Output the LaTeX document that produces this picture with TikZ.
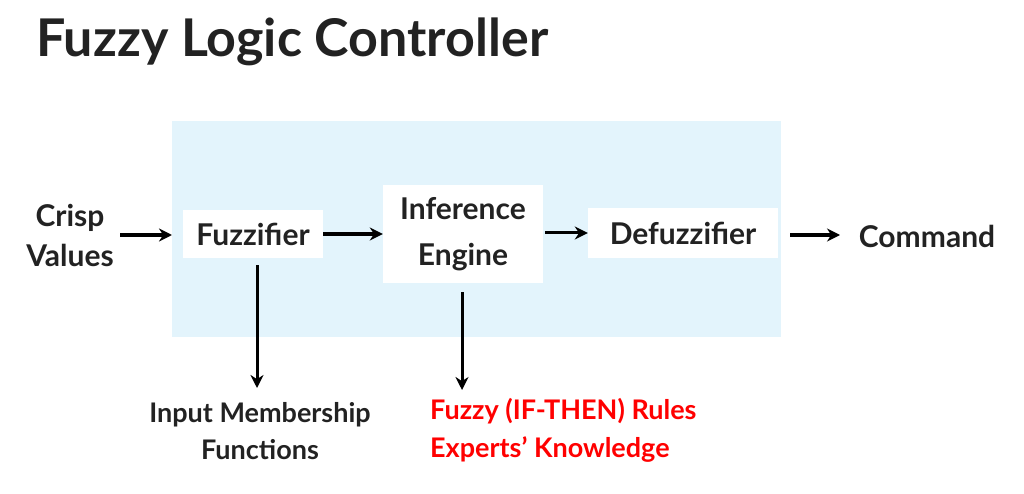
\documentclass[tikz,border=0pt]{standalone}
\usepackage{fontspec}
\setmainfont{Lato}
\usetikzlibrary{arrows.meta}
\definecolor{bgblue}{HTML}{E3F4FC}
\definecolor{txt}{HTML}{222222}
\begin{document}
\begin{tikzpicture}[x=1pt,y=-1pt,
  lbl/.style={font=\fontsize{30}{46}\selectfont\bfseries,text=txt,align=center,inner sep=0pt},
  box/.style={fill=white,lbl},
  arr/.style={-{Stealth[length=13pt,width=13pt]},line width=3pt,black}]
\useasboundingbox (0,0) rectangle (1024,494);
\node[anchor=west,font=\fontsize{52}{60}\selectfont\bfseries,text=txt,inner sep=0pt] (title) at (36,42) {Fuzzy Logic Controller};
\node[fill=bgblue,minimum width=609,minimum height=216,inner sep=0pt,anchor=north west] (bg) at (172,121) {};
\node[lbl,font=\fontsize{30}{40}\selectfont\bfseries] (crisp) at (70,235) {Crisp\\Values};
\node[box,minimum width=140,minimum height=48] (fuzz) at (253,234) {Fuzzifier};
\node[box,minimum width=160,minimum height=98] (inf) at (463,234) {Inference\\Engine};
\node[box,minimum width=190,minimum height=50] (defuzz) at (683,233) {Defuzzifier};
\node[lbl] (cmd) at (927,236) {Command};
\node[lbl,font=\fontsize{27}{37}\selectfont\bfseries] (imf) at (260,431) {Input Membership\\Functions};
\node[lbl,align=left,anchor=north west,text=red,font=\fontsize{27}{38}\selectfont\bfseries] (rules) at (430,398) {Fuzzy (IF-THEN) Rules\\Experts' Knowledge};
\coordinate (a0) at (120,235); \coordinate (a1) at (172,235);
\draw[arr] (a0) -- (a1);
\draw[arr] (fuzz.east) -- (inf.west |- fuzz.east);
\draw[arr] (inf.east |- defuzz.west) ++(2,0) -- (defuzz.west);
\coordinate (b0) at (790,235); \coordinate (b1) at (840,235);
\draw[arr] (b0) -- (b1);
\coordinate (d1) at (257,388);
\draw[arr] (fuzz.south -| d1) ++(0,7) -- (d1);
\coordinate (d2) at (462,390);
\draw[arr] (inf.south -| d2) ++(0,9) -- (d2);
\end{tikzpicture}
\end{document}
